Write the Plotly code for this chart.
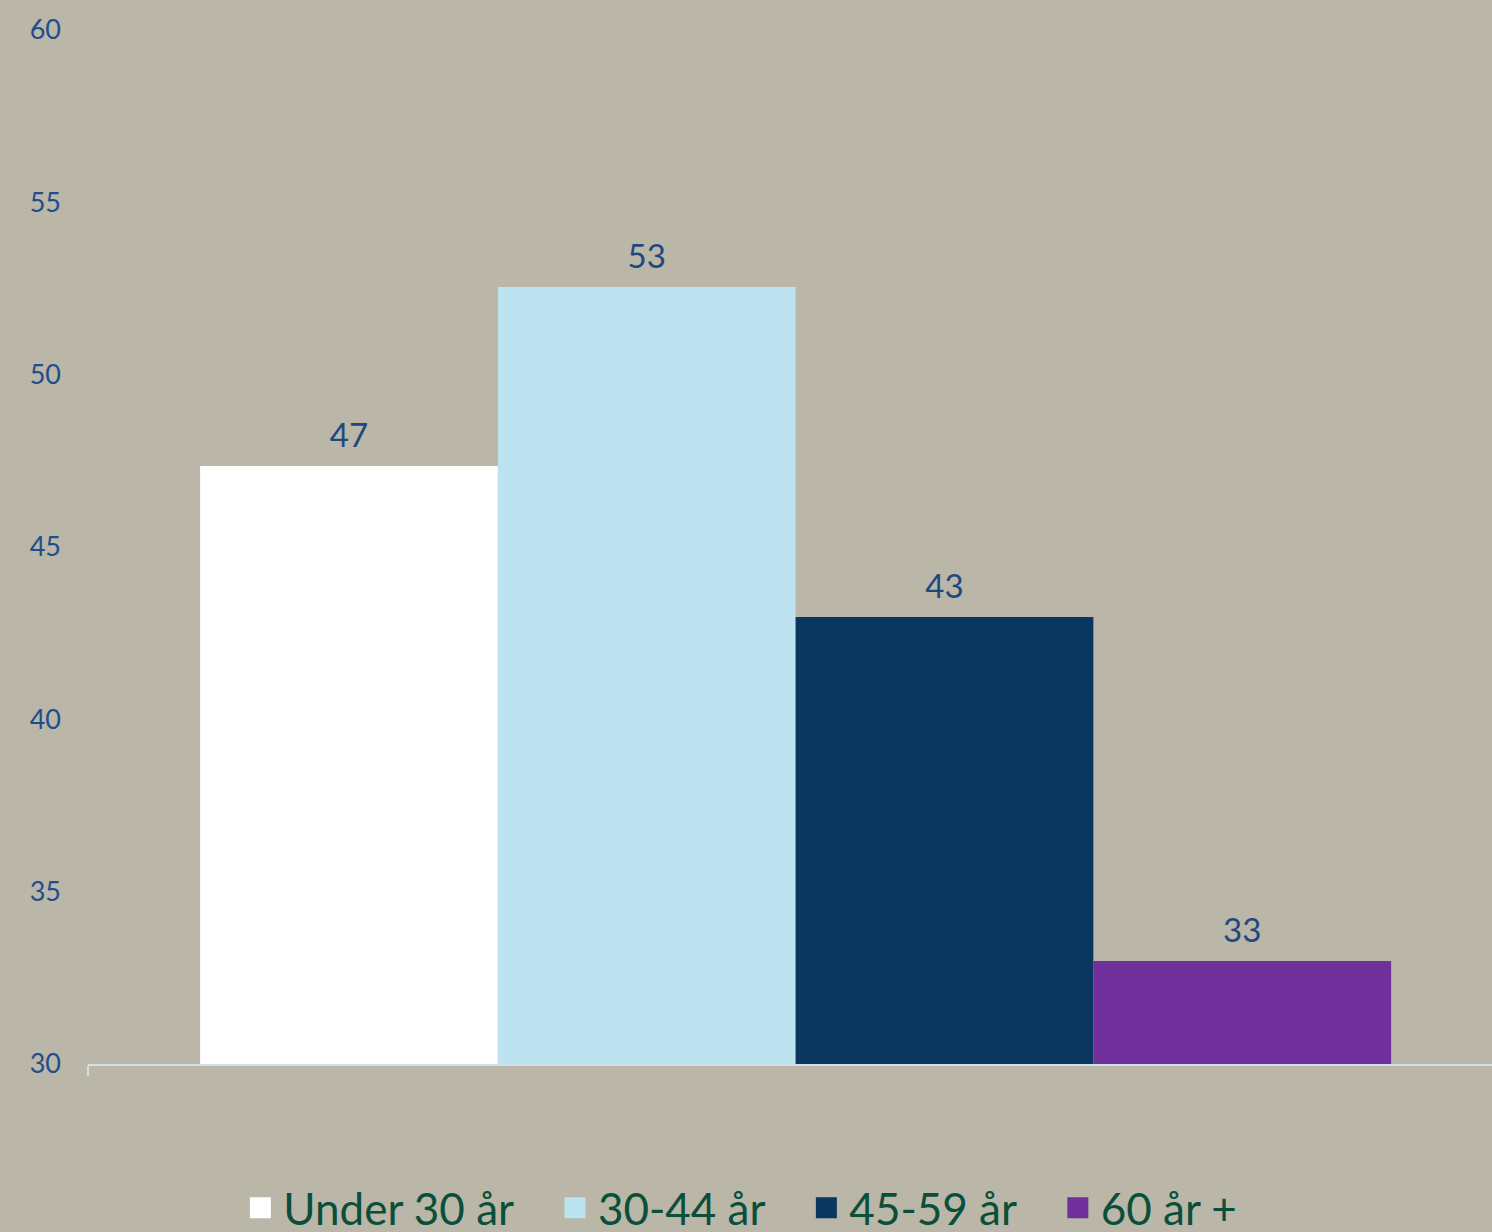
import plotly.graph_objects as go

categories = ["Under 30 år", "30-44 år", "45-59 år", "60 år +"]
values = [47.35, 52.54, 42.97, 32.99]
colors = ["#FFFFFF", "#BDE2F0", "#0B3660", "#70309C"]
y_ticks = [30, 35, 40, 45, 50, 55, 60]

BG = "#BAB6A8"
FONT = "Lato"
PAD = "\u00a0" * 3

fig = go.Figure()
for name, v, c in zip(categories, values, colors):
    fig.add_trace(go.Bar(
        name=name, x=[0], y=[v], marker=dict(color=c, line=dict(width=0)),
        text=[f"{round(v)}"], showlegend=False,
        texttemplate="<span style='font-size:33px'>%{text}</span><br> ",
        textposition="outside", cliponaxis=False,
        textfont=dict(family=FONT, size=11, color="#1F497D"),
    ))
# legend entries (square swatches)
for name, c in zip(categories, colors):
    fig.add_trace(go.Scatter(
        name=name + PAD, x=[None], y=[None], mode="markers",
        marker=dict(symbol="square", size=16, color=c, line=dict(color=c, width=5)),
        showlegend=True,
    ))

fig.update_layout(
    width=1492, height=1232,
    paper_bgcolor=BG, plot_bgcolor=BG,
    margin=dict(l=88, r=0, t=30, b=168, autoexpand=False),
    barmode="group", bargap=0.1517, bargroupgap=0,
    showlegend=True,
    legend=dict(orientation="h", x=0.4764, xanchor="center", y=-0.105, yanchor="top",
                font=dict(family=FONT, size=44, color="#0B4F3A"),
                itemwidth=36, itemsizing="trace", traceorder="normal"),
    xaxis=dict(range=[-0.504, 0.496], showline=True, linecolor="#D3DDE8", linewidth=2,
               tickvals=[-0.504], ticktext=[""], ticks="outside", ticklen=10,
               tickcolor="#D3DDE8", tickwidth=2, showgrid=False, zeroline=False),
    yaxis=dict(range=[30, 60], tickvals=y_ticks, showgrid=False, zeroline=False,
               showline=False, ticks="", ticklabelstandoff=26,
               tickfont=dict(family=FONT, size=27, color="#1F4E8C")),
)

fig.write_html("out.html", config={"displayModeBar": False},
               post_script="document.body.style.margin='0';")
